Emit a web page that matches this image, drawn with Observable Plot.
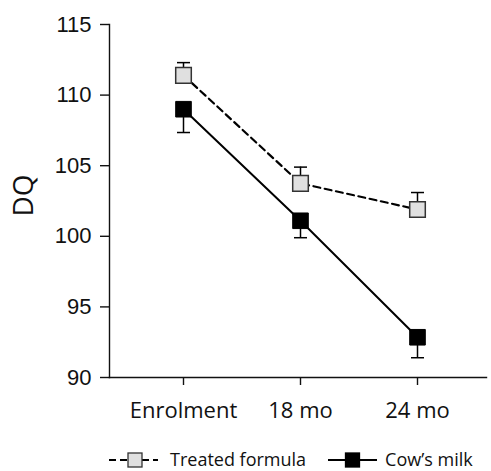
<!DOCTYPE html>
<html>
<head>
<meta charset="utf-8">
<script src="https://cdn.jsdelivr.net/npm/d3@7"></script>
<script src="https://cdn.jsdelivr.net/npm/@observablehq/plot@0.6"></script>
<style>
  html, body { margin: 0; padding: 0; background: #fff; }
  #chart { width: 491px; }
  #chart svg.dqplot g.yax text { font-size: 22px !important; font-family: "Liberation Sans", Arial, sans-serif !important; }
  #chart svg.dqplot g.xax text { font-size: 22px !important; font-family: "Open Sans", sans-serif !important; }
  .legend { box-sizing: border-box; height: 41px; padding-top: 22px; display: flex; align-items: flex-start; font-family: "Open Sans", sans-serif; font-size: 18px; color: #111; }
  .legend span.item { display: inline-flex; align-items: center; height: 16px; line-height: 16px; }
  .legend span.item span { position: relative; top: -1px; white-space: nowrap; }
</style>
</head>
<body>
<div id="chart"></div>
<script>
const timepoints = ["Enrolment", "18 mo", "24 mo"];
const seriesNames = ["Treated formula", "Cow\u2019s milk"];
const treatedMean = [111.4, 103.75, 101.9];
const treatedSE = [0.9, 1.15, 1.2];
const cowMean = [109.0, 101.1, 92.85];
const cowSE = [1.65, 1.2, 1.45];
const yTicks = [90, 95, 100, 105, 110, 115];

const data = [];
timepoints.forEach((t, i) => {
  data.push({series: seriesNames[0], time: t, mean: treatedMean[i], end: treatedMean[i] + treatedSE[i]});
  data.push({series: seriesNames[1], time: t, mean: cowMean[i], end: cowMean[i] - cowSE[i]});
});
const treated = data.filter(d => d.series === seriesNames[0]);
const cow = data.filter(d => d.series === seriesNames[1]);

const capSymbol = {draw(ctx) { ctx.moveTo(-6.5, 0); ctx.lineTo(6.5, 0); }};

const plot = Plot.plot({
  width: 491,
  height: 430,
  marginLeft: 109,
  marginRight: 5,
  marginTop: 24,
  marginBottom: 53,
  className: "dqplot",
  style: {fontFamily: "'Liberation Sans', Arial, sans-serif", background: "#fff", color: "#111", fontSize: "22px"},
  x: {type: "point", domain: timepoints, range: [183, 417], padding: 0},
  y: {domain: [90, 115]},
  marks: [
    Plot.frame({anchor: "left", stroke: "#111", strokeWidth: 1.4}),
    Plot.frame({anchor: "bottom", stroke: "#111", strokeWidth: 1.4}),
    Plot.axisY({ticks: yTicks, tickSize: 9, tickPadding: 9, label: null, fontSize: 22, stroke: "#111", strokeWidth: 1.4, className: "yax"}),
    Plot.axisX({tickSize: 8, tickPadding: 17, label: null, fontSize: 22, stroke: "#111", strokeWidth: 1.4, className: "xax"}),
    Plot.line(treated, {x: "time", y: "mean", stroke: "#000", strokeWidth: 2.2, strokeDasharray: "7,4.5"}),
    Plot.line(cow, {x: "time", y: "mean", stroke: "#000", strokeWidth: 2}),
    Plot.ruleX(data, {x: "time", y1: "mean", y2: "end", stroke: "#000", strokeWidth: 1.5}),
    Plot.dot(data, {x: "time", y: "end", symbol: capSymbol, stroke: "#000", strokeWidth: 1.5, fill: "none"}),
    Plot.dot(treated, {x: "time", y: "mean", symbol: "square", r: 8.8, fill: "#e0e0e0", stroke: "#333", strokeWidth: 1.5}),
    Plot.dot(cow, {x: "time", y: "mean", symbol: "square", r: 8.8, fill: "#000", stroke: "#000", strokeWidth: 1})
  ]
});

// y axis label
const svgNS = "http://www.w3.org/2000/svg";
const lab = document.createElementNS(svgNS, "text");
lab.textContent = "DQ";
lab.setAttribute("transform", `translate(33,${(24 + 377) / 2 - 5}) rotate(-90)`);
lab.setAttribute("text-anchor", "middle");
lab.setAttribute("style", "font-size:28px;font-family:'Open Sans',sans-serif");
lab.setAttribute("fill", "#111");
plot.appendChild(lab);

document.getElementById("chart").appendChild(plot);

// legend
const legend = document.createElement("div");
legend.className = "legend";
legend.style.paddingLeft = "109px";
const styles = [
  {dash: "7,4", fill: "#e0e0e0", stroke: "#333", rx: 19, gapBefore: 0, gapAfter: 12},
  {dash: null, fill: "#000", stroke: "#000", rx: 17.5, gapBefore: 22, gapAfter: 8}
];
seriesNames.forEach((name, i) => {
  const item = document.createElement("span");
  item.className = "item";
  const s = styles[i];
  item.style.marginLeft = s.gapBefore + "px";
  item.innerHTML = `<svg width="49" height="16" style="margin-right:${s.gapAfter}px;overflow:visible">
    <line x1="0" x2="49" y1="8" y2="8" stroke="#000" stroke-width="2.2" ${s.dash ? `stroke-dasharray="${s.dash}"` : ""}/>
    <rect x="${s.rx}" y="1" width="14" height="14" fill="${s.fill}" stroke="${s.stroke}" stroke-width="1.3"/>
  </svg><span>${name}</span>`;
  legend.appendChild(item);
});
document.getElementById("chart").appendChild(legend);
</script>
</body>
</html>
